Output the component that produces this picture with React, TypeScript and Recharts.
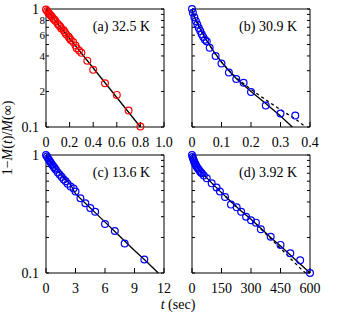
import React from "react"
import { ComposedChart, Scatter, Line, XAxis, YAxis } from "recharts"

const FONT = '"Liberation Serif", "Times New Roman", serif'

// panel (a) 32.5 K
const aX = [0, 0.01, 0.02, 0.03, 0.04, 0.05, 0.06, 0.07, 0.08, 0.1, 0.11, 0.12, 0.13, 0.15, 0.16, 0.17, 0.19, 0.2, 0.21, 0.23, 0.25, 0.26, 0.28, 0.3, 0.35, 0.4, 0.5, 0.6, 0.7, 0.8]
const aY = [0.99, 0.96, 0.93, 0.905, 0.88, 0.86, 0.83, 0.815, 0.79, 0.745, 0.73, 0.71, 0.685, 0.66, 0.635, 0.61, 0.585, 0.565, 0.545, 0.525, 0.49, 0.465, 0.445, 0.425, 0.365, 0.305, 0.235, 0.187, 0.138, 0.101]
const aFitX = [0, 0.8]
const aFitY = [1, 0.1]

// panel (b) 30.9 K
const bX = [0, 0.003, 0.008, 0.013, 0.018, 0.023, 0.028, 0.033, 0.038, 0.044, 0.05, 0.06, 0.08, 0.1, 0.125, 0.15, 0.175, 0.2, 0.25, 0.3, 0.35]
const bY = [1.0, 0.93, 0.85, 0.79, 0.74, 0.69, 0.65, 0.61, 0.58, 0.55, 0.53, 0.47, 0.4, 0.345, 0.29, 0.255, 0.237, 0.198, 0.152, 0.13, 0.125]
const bFitX = [0, 0.005, 0.01, 0.02, 0.03, 0.05, 0.075, 0.1, 0.125, 0.15, 0.2, 0.25, 0.3, 0.34]
const bFitY = [1, 0.9, 0.84, 0.74, 0.66, 0.54, 0.43, 0.355, 0.3, 0.258, 0.2, 0.158, 0.124, 0.1]
const bDashX = [0, 0.005, 0.01, 0.02, 0.03, 0.05, 0.075, 0.1, 0.125, 0.15, 0.2, 0.25, 0.3, 0.35, 0.386]
const bDashY = [1, 0.9, 0.84, 0.74, 0.66, 0.54, 0.43, 0.355, 0.302, 0.262, 0.208, 0.17, 0.14, 0.117, 0.1]

// panel (c) 13.6 K
const cX = [0, 0.1, 0.2, 0.3, 0.4, 0.5, 0.6, 0.7, 0.8, 0.9, 1.0, 1.2, 1.4, 1.6, 1.8, 2.0, 2.2, 2.5, 2.8, 3.0, 3.5, 4.0, 4.5, 5.0, 6.0, 7.0, 8.0, 10.0]
const cY = [1.0, 0.97, 0.94, 0.91, 0.88, 0.86, 0.83, 0.81, 0.79, 0.77, 0.75, 0.71, 0.68, 0.65, 0.62, 0.6, 0.57, 0.54, 0.52, 0.49, 0.43, 0.39, 0.355, 0.33, 0.26, 0.227, 0.178, 0.13]
const cFitX = [0, 0.25, 0.5, 1, 1.5, 2, 2.5, 3, 4, 5, 6, 7, 8, 9, 10, 11.42]
const cFitY = [1, 0.92, 0.86, 0.77, 0.69, 0.62, 0.56, 0.47, 0.39, 0.325, 0.27, 0.225, 0.187, 0.155, 0.13, 0.1]

// panel (d) 3.92 K
const dX = [0, 3, 6, 9, 12, 15, 18, 21, 25, 30, 35, 40, 45, 50, 60, 75, 100, 125, 142, 168, 198, 227, 250, 275, 300, 325, 350, 400, 450, 500, 550, 600]
const dY = [1.0, 0.96, 0.93, 0.9, 0.87, 0.85, 0.83, 0.81, 0.79, 0.77, 0.75, 0.73, 0.71, 0.7, 0.67, 0.635, 0.575, 0.53, 0.49, 0.44, 0.38, 0.36, 0.33, 0.3, 0.28, 0.267, 0.235, 0.203, 0.173, 0.147, 0.128, 0.1]
const dFitX = [0, 10, 25, 50, 75, 100, 150, 200, 250, 300, 350, 400, 450, 500, 550, 600]
const dFitY = [1, 0.9, 0.81, 0.71, 0.64, 0.58, 0.48, 0.4, 0.335, 0.285, 0.239, 0.2, 0.169, 0.142, 0.119, 0.1]
const dDashX = [0, 10, 25, 50, 75, 100, 150, 200, 250, 300, 350, 400, 450, 500, 550, 578]
const dDashY = [1, 0.9, 0.81, 0.71, 0.64, 0.58, 0.48, 0.4, 0.335, 0.285, 0.236, 0.196, 0.162, 0.133, 0.11, 0.1]

const yTicks = [0.1, 0.2, 0.3, 0.4, 0.5, 0.6, 0.7, 0.8, 0.9, 1]
const aYLabels: Record<string, string> = { "1": "1", "0.8": "8", "0.6": "6", "0.4": "4", "0.2": "2", "0.1": "0.1" }
const cYLabels: Record<string, string> = { "1": "1", "0.1": "0.1" }
const noLabels: Record<string, string> = {}

const zip = (xs: number[], ys: number[]) => xs.map((x, i) => ({ x, y: ys[i] }))

const yTick = (labels: Record<string, string>) => (p: any) => {
  const v = p.payload.value
  const lab = labels[String(v)]
  if (!lab) return <g />
  const minor = v !== 1 && v !== 0.1
  return (
    <text x={p.x + (minor ? 6 : 0)} y={p.y} dy="0.35em" textAnchor="end" fontSize={minor ? 11 : 14} fontFamily={FONT} fill="#000">
      {lab}
    </text>
  )
}

const circle = (color: string) => (p: any) => (
  <circle cx={p.cx} cy={p.cy} r={3.4} fill="none" stroke={color} strokeWidth={1.2} />
)

interface PanelProps {
  left: number
  top: number
  xMax: number
  xTicks: number[]
  fmt: (v: number) => string
  points: { x: number; y: number }[]
  color: string
  fit: { x: number; y: number }[]
  dash?: { x: number; y: number }[]
  yLabels: Record<string, string>
}

function Panel({ left, top, xMax, xTicks, fmt, points, color, fit, dash, yLabels }: PanelProps) {
  const axisStroke = { stroke: "#000", strokeWidth: 1 }
  return (
    <div style={{ position: "absolute", left, top }}>
      <ComposedChart width={185} height={160} margin={{ top: 8, right: 20, bottom: 13, left: 16 }}>
        <XAxis
          type="number"
          dataKey="x"
          domain={[0, xMax]}
          ticks={xTicks}
          interval={0}
          height={20}
          tickSize={-5}
          tickMargin={15}
          tickFormatter={fmt}
          tick={{ fill: "#000", fontSize: 14, fontFamily: FONT }}
          axisLine={axisStroke}
          tickLine={axisStroke}
        />
        <XAxis
          xAxisId="top"
          orientation="top"
          type="number"
          domain={[0, xMax]}
          allowDataOverflow
          ticks={xTicks}
          interval={0}
          height={1}
          tickSize={-5}
          tick={() => <g />}
          axisLine={axisStroke}
          tickLine={axisStroke}
        />
        <YAxis
          type="number"
          dataKey="y"
          scale="log"
          domain={[0.1, 1]}
          ticks={yTicks}
          interval={0}
          width={30}
          tickSize={-3}
          tickMargin={10}
          tick={yTick(yLabels)}
          axisLine={axisStroke}
          tickLine={axisStroke}
        />
        <YAxis
          yAxisId="right"
          orientation="right"
          type="number"
          scale="log"
          domain={[0.1, 1]}
          allowDataOverflow
          ticks={yTicks}
          interval={0}
          width={1}
          tickSize={-3}
          tick={() => <g />}
          axisLine={axisStroke}
          tickLine={axisStroke}
        />
        <Line data={fit} dataKey="y" type="linear" stroke="#000" strokeWidth={1.3} dot={false} isAnimationActive={false} />
        {dash && (
          <Line data={dash} dataKey="y" type="linear" stroke="#000" strokeWidth={1.3} strokeDasharray="3 3" dot={false} isAnimationActive={false} />
        )}
        <Scatter data={points} dataKey="y" shape={circle(color)} isAnimationActive={false} />
      </ComposedChart>
    </div>
  )
}

const fmt1 = (v: number) => (v === 0 ? "0" : v.toFixed(1))
const fmt0 = (v: number) => String(v)

export default function App() {
  return (
    <div style={{ position: "absolute", left: 0, top: 0, width: 339, height: 316, background: "#fff" }}>
      <Panel left={0} top={0} xMax={1} xTicks={[0, 0.2, 0.4, 0.6, 0.8, 1]} fmt={fmt1} points={zip(aX, aY)} color="#ff0000" fit={zip(aFitX, aFitY)} yLabels={aYLabels} />
      <Panel left={146} top={0} xMax={0.4} xTicks={[0, 0.1, 0.2, 0.3, 0.4]} fmt={fmt1} points={zip(bX, bY)} color="#0000ff" fit={zip(bFitX, bFitY)} dash={zip(bDashX, bDashY)} yLabels={noLabels} />
      <Panel left={0} top={146} xMax={12} xTicks={[0, 3, 6, 9, 12]} fmt={fmt0} points={zip(cX, cY)} color="#0000ff" fit={zip(cFitX, cFitY)} yLabels={cYLabels} />
      <Panel left={146} top={146} xMax={600} xTicks={[0, 150, 300, 450, 600]} fmt={fmt0} points={zip(dX, dY)} color="#0000ff" fit={zip(dFitX, dFitY)} dash={zip(dDashX, dDashY)} yLabels={noLabels} />
      <svg width={339} height={316} style={{ position: "absolute", left: 0, top: 0, pointerEvents: "none" }} fontFamily={FONT} fontSize={14} fill="#000">
        <text x={150} y={31} textAnchor="end">(a) 32.5 K</text>
        <text x={297} y={31} textAnchor="end">(b) 30.9 K</text>
        <text x={150} y={177} textAnchor="end">(c) 13.6 K</text>
        <text x={297} y={177} textAnchor="end">(d) 3.92 K</text>
        <text transform="translate(12,138) rotate(-90)" textAnchor="middle">
          1−<tspan fontStyle="italic">M</tspan>(<tspan fontStyle="italic">t</tspan>)/<tspan fontStyle="italic">M</tspan>(∞)
        </text>
        <text x={178} y={309} textAnchor="middle">
          <tspan fontStyle="italic">t</tspan> (sec)
        </text>
      </svg>
    </div>
  )
}
